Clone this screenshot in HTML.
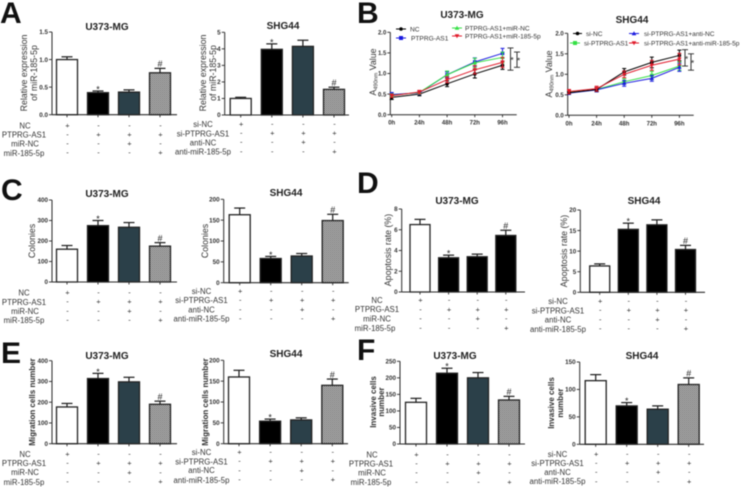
<!DOCTYPE html>
<html lang="en">
<head>
<meta charset="utf-8">
<title>PTPRG-AS1 and miR-185-5p figure</title>
<style>
html,body{margin:0;padding:0;background:#fff;width:742px;height:487px;overflow:hidden}
svg{display:block;font-family:"Liberation Sans",Arial,sans-serif;filter:blur(.4px)}
.letter{font-size:30px;font-weight:bold;fill:#111}
.title{font-size:10px;font-weight:bold;text-anchor:middle;fill:#222}
.row{font-size:7.8px;text-anchor:middle;fill:#333}
.ylab{font-size:8.8px;text-anchor:middle;fill:#333}
.ylab-b{font-size:8px;font-weight:bold;text-anchor:middle;fill:#333}
.leg{font-size:6.6px;fill:#333}
</style>
</head>
<body>
<svg id="fig" xmlns="http://www.w3.org/2000/svg" width="742" height="487" viewBox="0 0 742 487">
<defs>
<pattern id="hatch" patternUnits="userSpaceOnUse" width="2" height="2">
<rect width="2" height="2" fill="#d2d2d2"></rect>
<rect width="1" height="1" fill="#555"></rect>
<rect x="1" y="1" width="1" height="1" fill="#666"></rect>
</pattern>
</defs>

<text class="letter" x="0" y="23">A</text>
<text class="letter" x="357" y="23">B</text>
<text class="letter" x="1" y="200">C</text>
<text class="letter" x="357" y="193">D</text>
<text class="letter" x="1" y="363">E</text>
<text class="letter" x="357" y="360">F</text>

<text class="title" x="107" y="30">U373-MG</text>
<text class="title" x="283" y="29">SHG44</text>
<text class="title" x="462" y="18">U373-MG</text>
<text class="title" x="632" y="23">SHG44</text>
<text class="title" x="107" y="197">U373-MG</text>
<text class="title" x="286" y="196">SHG44</text>
<text class="title" x="457" y="204">U373-MG</text>
<text class="title" x="644" y="204">SHG44</text>
<text class="title" x="107" y="359">U373-MG</text>
<text class="title" x="286" y="357">SHG44</text>
<text class="title" x="455" y="359">U373-MG</text>
<text class="title" x="642" y="359">SHG44</text>

<text class="ylab" transform="translate(27,73) rotate(-90)">Relative expression</text>
<text class="ylab" transform="translate(37,73) rotate(-90)">of miR-185-5p</text>
<text class="ylab" transform="translate(206,73) rotate(-90)">Relative expression</text>
<text class="ylab" transform="translate(216,73) rotate(-90)">of miR-185-5p</text>
<text class="ylab" transform="translate(376,72) rotate(-90)">A<tspan font-size="5.5" dy="1.5">490nm</tspan><tspan dy="-1.5"> Value</tspan></text>
<text class="ylab" transform="translate(552,74) rotate(-90)">A<tspan font-size="5.5" dy="1.5">490nm</tspan><tspan dy="-1.5"> Value</tspan></text>
<text class="ylab" transform="translate(35,241) rotate(-90)">Colonies</text>
<text class="ylab" transform="translate(208,241) rotate(-90)">Colonies</text>
<text class="ylab" transform="translate(391,250) rotate(-90)">Apoptosis rate (%)</text>
<text class="ylab" transform="translate(567,251) rotate(-90)">Apoptosis rate (%)</text>
<text class="ylab-b" transform="translate(35,402) rotate(-90)">Migration cells number</text>
<text class="ylab-b" transform="translate(208,402) rotate(-90)">Migration cells number</text>
<text class="ylab-b" transform="translate(376,402) rotate(-90)">Invasive cells</text>
<text class="ylab-b" transform="translate(384,402) rotate(-90)">number</text>
<text class="ylab-b" transform="translate(554,403) rotate(-90)">Invasive cells</text>
<text class="ylab-b" transform="translate(563,403) rotate(-90)">number</text>

<g>
<text class="row" x="25" y="128.5">NC</text><text class="row" x="24" y="137.5">PTPRG-AS1</text><text class="row" x="25" y="146.5">miR-NC</text><text class="row" x="24" y="156">miR-185-5p</text>
</g>
<g>
<text class="row" x="203" y="127">si-NC</text><text class="row" x="203" y="136.5">si-PTPRG-AS1</text><text class="row" x="203" y="145.5">anti-NC</text><text class="row" x="203" y="154.5">anti-miR-185-5p</text>
</g>
<g>
<text class="row" x="24" y="295.5">NC</text><text class="row" x="24" y="305">PTPRG-AS1</text><text class="row" x="25" y="314">miR-NC</text><text class="row" x="24" y="323">miR-185-5p</text>
</g>
<g>
<text class="row" x="201.5" y="294">si-NC</text><text class="row" x="201.5" y="303">si-PTPRG-AS1</text><text class="row" x="201.5" y="312.5">anti-NC</text><text class="row" x="201.5" y="321.5">anti-miR-185-5p</text>
</g>
<g>
<text class="row" x="377" y="303">NC</text><text class="row" x="377" y="312">PTPRG-AS1</text><text class="row" x="377" y="321.5">miR-NC</text><text class="row" x="375" y="331">miR-185-5p</text>
</g>
<g>
<text class="row" x="558" y="304">si-NC</text><text class="row" x="558" y="313.5">si-PTPRG-AS1</text><text class="row" x="558" y="322.5">anti-NC</text><text class="row" x="558" y="332">anti-miR-185-5p</text>
</g>
<g>
<text class="row" x="25" y="457">NC</text><text class="row" x="24" y="466">PTPRG-AS1</text><text class="row" x="25" y="475">miR-NC</text><text class="row" x="24" y="485">miR-185-5p</text>
</g>
<g>
<text class="row" x="201.5" y="455">si-NC</text><text class="row" x="201.5" y="464.5">si-PTPRG-AS1</text><text class="row" x="201.5" y="473">anti-NC</text><text class="row" x="201.5" y="483">anti-miR-185-5p</text>
</g>
<g>
<text class="row" x="372" y="457.5">NC</text><text class="row" x="371" y="466.5">PTPRG-AS1</text><text class="row" x="372" y="475.5">miR-NC</text><text class="row" x="371" y="485">miR-185-5p</text>
</g>
<g>
<text class="row" x="557.5" y="457">si-NC</text><text class="row" x="557.5" y="466">si-PTPRG-AS1</text><text class="row" x="557.5" y="475">anti-NC</text><text class="row" x="557.5" y="484">anti-miR-185-5p</text>
</g>

<g>
<g><line x1="396" x2="406" y1="29" y2="29" stroke="#000"></line><circle cx="401" cy="29" r="1.8" fill="#000"></circle><text class="leg" x="410" y="31.5">NC</text></g>
<g><line x1="396" x2="406" y1="38" y2="38" stroke="#1a1ae0"></line><rect x="399" y="36" width="4" height="4" fill="#1a1ae0"></rect><text class="leg" x="411" y="40.5">PTPRG-AS1</text></g>
<g><line x1="452" x2="462" y1="28" y2="28" stroke="#35e045"></line><polygon points="457,25.8 459.3,29.8 454.7,29.8" fill="#35e045"></polygon><text class="leg" x="465" y="30.5">PTPRG-AS1+miR-NC</text></g>
<g><line x1="452" x2="462" y1="36" y2="36" stroke="#e01a2a"></line><polygon points="457,38.2 459.3,34.2 454.7,34.2" fill="#e01a2a"></polygon><text class="leg" x="465" y="38.5">PTPRG-AS1+miR-185-5p</text></g>
</g>
<g>
<g><line x1="573" x2="582" y1="33.5" y2="33.5" stroke="#000"></line><circle cx="577.5" cy="33.5" r="1.8" fill="#000"></circle><text class="leg" x="586" y="36">si-NC</text></g>
<g><line x1="570" x2="580" y1="43" y2="43" stroke="#35e045"></line><rect x="573" y="41" width="4" height="4" fill="#35e045"></rect><text class="leg" x="584" y="45.5">si-PTPRG-AS1</text></g>
<g><line x1="629" x2="639" y1="33.5" y2="33.5" stroke="#1a1ae0"></line><polygon points="634,31.3 636.3,35.3 631.7,35.3" fill="#1a1ae0"></polygon><text class="leg" x="644" y="36">si-PTPRG-AS1+anti-NC</text></g>
<g><line x1="629" x2="639" y1="43" y2="43" stroke="#e01a2a"></line><polygon points="634,45.2 636.3,41.2 631.7,41.2" fill="#e01a2a"></polygon><text class="leg" x="644" y="45.5">si-PTPRG-AS1+anti-miR-185-5p</text></g>
</g>
</svg>

<script>
// ---- shared categorical data ----
const treatmentMarks = [
  ['+','-','-','-'],
  ['-','+','+','+'],
  ['-','-','+','-'],
  ['-','-','-','+']
];
const barSignificance = ['', '*', '', '#'];

// ---- panel A ----
const aU373Ticks = ['0.0','0.5','1.0','1.5'];
const aU373Values = [1.0, 0.40, 0.41, 0.76];
const aU373Errors = [0.05, 0.03, 0.04, 0.08];
const aShgTicks = ['0','1','2','3','4','5'];
const aShgValues = [1.0, 3.97, 4.15, 1.55];
const aShgErrors = [0.07, 0.33, 0.37, 0.13];

// ---- panel C ----
const cU373Ticks = ['0','100','200','300','400'];
const cU373Values = [160, 275, 267, 175];
const cU373Errors = [18, 25, 23, 17];
const cShgTicks = ['0','50','100','150','200'];
const cShgValues = [163, 58, 64, 149];
const cShgErrors = [16, 5, 6, 15];

// ---- panel D ----
const dU373Ticks = ['0','2','4','6','8'];
const dU373Values = [6.5, 3.3, 3.4, 5.45];
const dU373Errors = [0.5, 0.25, 0.25, 0.5];
const dShgTicks = ['0','5','10','15','20'];
const dShgValues = [6.4, 15.3, 16.4, 10.4];
const dShgErrors = [0.5, 1.5, 1.2, 1.0];

// ---- panel E ----
const eU373Ticks = ['0','100','200','300','400'];
const eU373Values = [177, 314, 298, 190];
const eU373Errors = [17, 25, 22, 15];
const eShgTicks = ['0','50','100','150','200'];
const eShgValues = [160, 54, 57, 140];
const eShgErrors = [16, 5, 5, 15];

// ---- panel F ----
const fU373Ticks = ['0','50','100','150','200','250'];
const fU373Values = [126, 214, 200, 133];
const fU373Errors = [12, 15, 16, 11];
const fShgTicks = ['0','50','100','150'];
const fShgValues = [116, 70, 64, 109];
const fShgErrors = [11, 6, 6, 12];

// ---- panel B line charts ----
const timeLabels = ['0h','24h','48h','72h','96h'];
const bTicks = ['0.0','0.5','1.0','1.5','2.0'];
const bU373Nc = [0.42, 0.50, 0.75, 0.99, 1.20];
const bU373NcErr = [0.05, 0.04, 0.07, 0.10, 0.10];
const bU373Ptprg = [0.49, 0.53, 0.97, 1.28, 1.49];
const bU373PtprgErr = [0.05, 0.04, 0.07, 0.10, 0.12];
const bU373MirNc = [0.47, 0.54, 0.97, 1.26, 1.39];
const bU373MirNcErr = [0.04, 0.04, 0.09, 0.11, 0.13];
const bU373Mir185 = [0.46, 0.55, 0.85, 1.09, 1.27];
const bU373Mir185Err = [0.04, 0.04, 0.07, 0.10, 0.12];
const bU373Brackets = [[1.62, 1.08], [1.52, 1.15]];

const bShgNc = [0.55, 0.63, 1.06, 1.29, 1.46];
const bShgNcErr = [0.03, 0.05, 0.08, 0.13, 0.13];
const bShgSi = [0.56, 0.63, 0.82, 0.97, 1.20];
const bShgSiErr = [0.03, 0.05, 0.07, 0.10, 0.10];
const bShgAntiNc = [0.54, 0.62, 0.78, 0.90, 1.17];
const bShgAntiNcErr = [0.03, 0.05, 0.07, 0.07, 0.10];
const bShgAnti185 = [0.58, 0.65, 1.00, 1.22, 1.37];
const bShgAnti185Err = [0.05, 0.06, 0.08, 0.12, 0.14];
const bShgBrackets = [[1.60, 1.20], [1.50, 1.10]];

const SVGNS = 'http://www.w3.org/2000/svg';
const fig = document.getElementById('fig');
const AXIS = '#2a2a2a';
const teal = '#2b4049';

function mk(tag, attrs, parent) {
  const n = document.createElementNS(SVGNS, tag);
  for (const k in attrs) n.setAttribute(k, attrs[k]);
  parent.appendChild(n);
  return n;
}

function linearY(ticks, y0, yTop) {
  const lo = parseFloat(ticks[0]);
  const hi = parseFloat(ticks[ticks.length - 1]);
  return function (v) { return y0 - (v - lo) / (hi - lo) * (y0 - yTop); };
}

function drawYAxis(g, ticks, sy, axisX, y0, yTop, fontSize) {
  let el = mk('line', {x1: axisX, x2: axisX, y1: yTop, y2: y0, stroke: AXIS, 'stroke-width': 1}, g);
  
  
  ticks.forEach(function (t) {
    const y = sy(parseFloat(t));
    const tick = mk('line', {x1: axisX - 3, x2: axisX, y1: y, y2: y, stroke: AXIS, 'stroke-width': 0.9}, g);
    
    
    const lab = mk('text', {x: axisX - 4, y: y + 2.2, 'text-anchor': 'end', 'font-size': fontSize, 'font-weight': 'bold', fill: '#333'}, g);
    lab.textContent = t;
    
    
  });
}

function drawBarChart(c) {
  const g = mk('g', {}, fig);
  
  
  const sy = linearY(c.ticks, c.y0, c.yTop);
  const sx = function (i) { return c.x0 + i * c.step; };
  const w = c.barW || 21;
  const fills = c.fills || ['#fff', '#000', teal, 'url(#hatch)'];

  c.values.forEach(function (v, i) {
    const top = sy(v);
    const bar = mk('rect', {x: sx(i) - w / 2, y: top, width: w, height: c.y0 - top, fill: fills[i], stroke: '#222', 'stroke-width': 1.3}, g);
    
    
    const errTop = sy(v + c.errors[i]);
    const stem = mk('line', {x1: sx(i), x2: sx(i), y1: top, y2: errTop, stroke: '#1a1a1a', 'stroke-width': 1.2}, g);
    
    
    const cap = mk('line', {x1: sx(i) - 5.5, x2: sx(i) + 5.5, y1: errTop, y2: errTop, stroke: '#1a1a1a', 'stroke-width': 1.2}, g);
    
    
    if (barSignificance[i]) {
      const sig = mk('text', {x: sx(i), y: errTop - (barSignificance[i] === '#' ? 1.2 : -1.5), 'text-anchor': 'middle', 'font-size': 9, fill: '#222'}, g);
      sig.textContent = barSignificance[i];
      
      
    }
    const xt = mk('line', {x1: sx(i), x2: sx(i), y1: c.y0, y2: c.y0 + 2.5, stroke: AXIS, 'stroke-width': 0.9}, g);
    
    
  });

  const xa = mk('line', {x1: c.axisX, x2: c.axisEnd, y1: c.y0, y2: c.y0, stroke: AXIS, 'stroke-width': 1.1}, g);
  
  
  drawYAxis(g, c.ticks, sy, c.axisX, c.y0, c.yTop, 6.3);

  treatmentMarks.forEach(function (row, r) {
    row.forEach(function (m, i) {
      const t = mk('text', {x: sx(i) + 0.5, y: c.rowTop + r * c.rowStep, 'text-anchor': 'middle', 'font-size': 7.5, fill: '#333'}, g);
      t.textContent = m;
      
      
    });
  });
}

function drawMarker(g, shape, x, y, col) {
  let m;
  if (shape === 'circle') m = mk('circle', {cx: x, cy: y, r: 1.8, fill: col}, g);
  else if (shape === 'square') m = mk('rect', {x: x - 1.8, y: y - 1.8, width: 3.6, height: 3.6, fill: col}, g);
  else if (shape === 'up') m = mk('polygon', {points: x + ',' + (y - 2.2) + ' ' + (x + 2.2) + ',' + (y + 1.6) + ' ' + (x - 2.2) + ',' + (y + 1.6), fill: col}, g);
  else m = mk('polygon', {points: x + ',' + (y + 2.2) + ' ' + (x + 2.2) + ',' + (y - 1.6) + ' ' + (x - 2.2) + ',' + (y - 1.6), fill: col}, g);
  
  
}

function drawLineChart(c) {
  const g = mk('g', {}, fig);
  
  
  const sy = linearY(bTicks, c.y0, c.yTop);
  const sx = function (i) { return c.x0 + i * c.step; };

  const xa = mk('line', {x1: c.axisX, x2: c.axisEnd, y1: c.y0, y2: c.y0, stroke: AXIS, 'stroke-width': 1}, g);
  
  
  drawYAxis(g, bTicks, sy, c.axisX, c.y0, c.yTop, 6);

  timeLabels.forEach(function (t, i) {
    const xt = mk('line', {x1: sx(i), x2: sx(i), y1: c.y0, y2: c.y0 + 2.5, stroke: AXIS, 'stroke-width': 0.9}, g);
    
    
    const lab = mk('text', {x: sx(i), y: c.y0 + 10, 'text-anchor': 'middle', 'font-size': 6, 'font-weight': 'bold', fill: '#333'}, g);
    lab.textContent = t;
    
    
  });

  c.series.forEach(function (s) {
    const pts = s.values.map(function (v, i) { return sx(i) + ',' + sy(v); }).join(' ');
    const line = mk('polyline', {points: pts, fill: 'none', stroke: s.color, 'stroke-width': 1}, g);
    
    
    s.values.forEach(function (v, i) {
      const e = s.errors[i];
      const eb = mk('path', {
        d: 'M' + sx(i) + ' ' + sy(v - e) + 'V' + sy(v + e) +
           'M' + (sx(i) - 2) + ' ' + sy(v - e) + 'h4M' + (sx(i) - 2) + ' ' + sy(v + e) + 'h4',
        stroke: s.color, 'stroke-width': 1, fill: 'none'}, g);
      
      
      drawMarker(g, s.shape, sx(i), sy(v), s.color);
    });
  });

  c.brackets.forEach(function (b, i) {
    const x = c.bracketX[i];
    const br = mk('path', {
      d: 'M' + (x - 3) + ' ' + sy(b[0]) + 'h6M' + x + ' ' + sy(b[0]) + 'V' + sy(b[1]) + 'M' + (x - 3) + ' ' + sy(b[1]) + 'h6',
      stroke: '#222', 'stroke-width': 0.9, fill: 'none'}, g);
    
    
    const st = mk('text', {x: x + 1.5, y: sy((b[0] + b[1]) / 2) + 4, 'text-anchor': 'middle', 'font-size': 8.5, fill: '#222'}, g);
    st.textContent = '*';
    
    
  });
}

const allBlack = ['#fff', '#000', '#000', '#000'];

drawBarChart({ticks: aU373Ticks, values: aU373Values, errors: aU373Errors, axisX: 52, axisEnd: 177, y0: 114.7, yTop: 32, x0: 67, step: 31, rowTop: 128, rowStep: 9});
drawBarChart({ticks: aShgTicks, values: aShgValues, errors: aShgErrors, axisX: 224.7, axisEnd: 349, y0: 115, yTop: 32.3, x0: 240.7, step: 31.1, rowTop: 126.5, rowStep: 9.1});
drawBarChart({ticks: cU373Ticks, values: cU373Values, errors: cU373Errors, axisX: 52, axisEnd: 177, y0: 282, yTop: 200, x0: 67, step: 31, rowTop: 295, rowStep: 9.2});
drawBarChart({ticks: cShgTicks, values: cShgValues, errors: cShgErrors, axisX: 223.7, axisEnd: 348.7, y0: 282.7, yTop: 199.3, x0: 239.7, step: 31, rowTop: 293.5, rowStep: 9.2});
drawBarChart({ticks: dU373Ticks, values: dU373Values, errors: dU373Errors, fills: allBlack, barW: 20, axisX: 401.7, axisEnd: 525, y0: 292, yTop: 209, x0: 420, step: 28.6, rowTop: 302.5, rowStep: 9.3});
drawBarChart({ticks: dShgTicks, values: dShgValues, errors: dShgErrors, fills: allBlack, barW: 20, axisX: 580.3, axisEnd: 705, y0: 292.3, yTop: 210, x0: 599.7, step: 28.6, rowTop: 303.5, rowStep: 9.2});
drawBarChart({ticks: eU373Ticks, values: eU373Values, errors: eU373Errors, axisX: 52, axisEnd: 177, y0: 443.7, yTop: 360.7, x0: 67, step: 31, rowTop: 456.5, rowStep: 9.2});
drawBarChart({ticks: eShgTicks, values: eShgValues, errors: eShgErrors, axisX: 223.7, axisEnd: 348, y0: 443.7, yTop: 360.3, x0: 239, step: 31.1, rowTop: 454.5, rowStep: 9.2});
drawBarChart({ticks: fU373Ticks, values: fU373Values, errors: fU373Errors, axisX: 400, axisEnd: 525, y0: 444, yTop: 361.3, x0: 416, step: 31, rowTop: 457, rowStep: 9.1});
drawBarChart({ticks: fShgTicks, values: fShgValues, errors: fShgErrors, axisX: 579.7, axisEnd: 704, y0: 444.3, yTop: 362, x0: 595.7, step: 31, rowTop: 456.5, rowStep: 9.1});

drawLineChart({axisX: 390.3, axisEnd: 516.7, y0: 114.7, yTop: 32.3, x0: 391.7, step: 27.7,
  bracketX: [510.5, 517],
  brackets: bU373Brackets,
  series: [
    {values: bU373Nc, errors: bU373NcErr, color: '#000', shape: 'circle'},
    {values: bU373Ptprg, errors: bU373PtprgErr, color: '#1a1ae0', shape: 'square'},
    {values: bU373MirNc, errors: bU373MirNcErr, color: '#35e045', shape: 'up'},
    {values: bU373Mir185, errors: bU373Mir185Err, color: '#e01a2a', shape: 'down'}
  ]});
drawLineChart({axisX: 567.7, axisEnd: 693.7, y0: 115.3, yTop: 33.3, x0: 569, step: 27.6,
  bracketX: [685, 691],
  brackets: bShgBrackets,
  series: [
    {values: bShgSi, errors: bShgSiErr, color: '#35e045', shape: 'square'},
    {values: bShgAntiNc, errors: bShgAntiNcErr, color: '#1a1ae0', shape: 'up'},
    {values: bShgNc, errors: bShgNcErr, color: '#000', shape: 'circle'},
    {values: bShgAnti185, errors: bShgAnti185Err, color: '#e01a2a', shape: 'down'}
  ]});
</script>
</body>
</html>
